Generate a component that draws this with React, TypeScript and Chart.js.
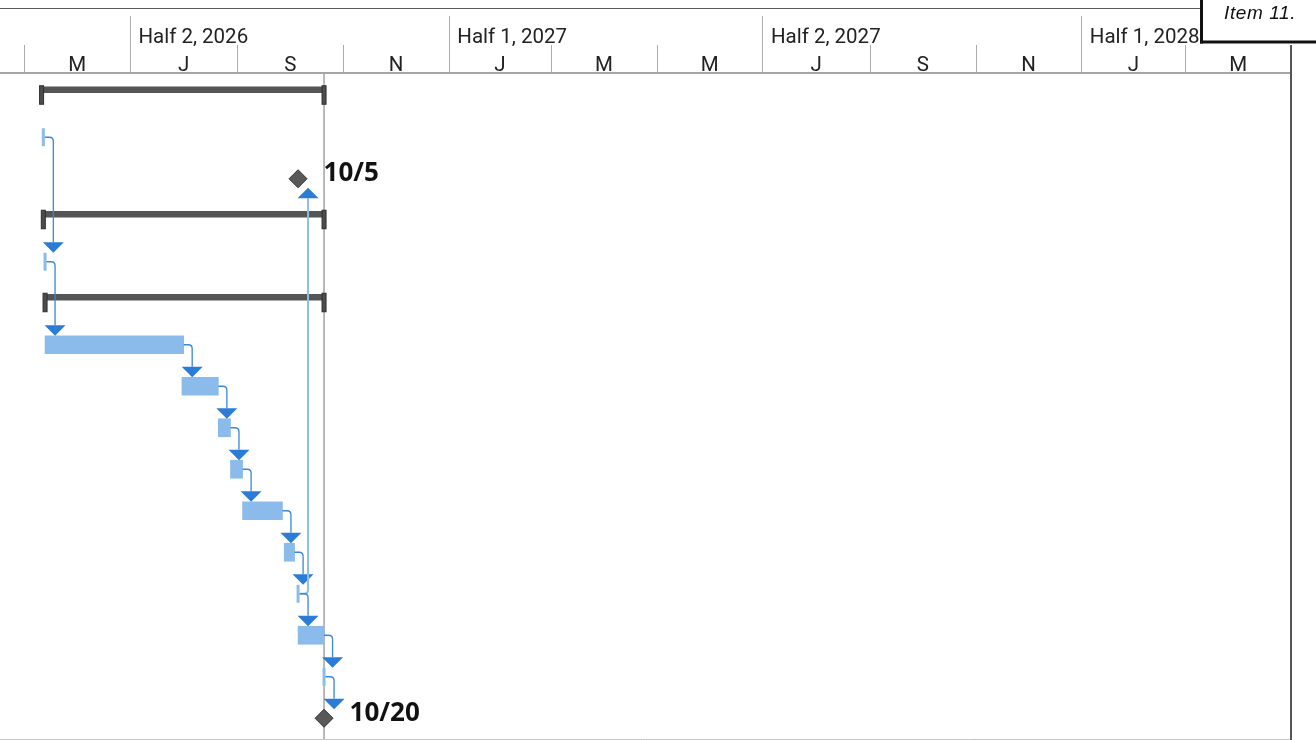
import React, { useEffect, useRef } from "react";
import { Chart, registerables } from "chart.js";

Chart.register(...registerables);

// ---------- time frame ----------
const ORIGIN = "2026-05-01"; // day 0 of the numeric time axis
const VIEW_START = "2026-04-17";
const VIEW_END = "2028-05-01";
const STATUS_DATE = "2026-10-20"; // grey vertical line (end of day)
const ROW_COUNT = 16;

// ---------- rows ----------
const rowNames = [
  "Item 1.", "Item 2.", "Item 3.", "Item 4.", "Item 5.", "Item 6.", "Item 7.", "Item 8.",
  "Item 9.", "Item 10.", "Item 11.", "Item 12.", "Item 13.", "Item 14.", "Item 15.", "Item 16.",
];

// summary tasks (start / finish, finish inclusive)
const summaryRows = [0, 3, 5];
const summaryStart = ["2026-05-11", "2026-05-12", "2026-05-13"];
const summaryFinish = ["2026-10-20", "2026-10-20", "2026-10-20"];

// normal tasks (start / finish, finish inclusive)
const taskRows = [6, 7, 8, 9, 10, 11, 13];
const taskStart = ["2026-05-13", "2026-07-31", "2026-08-21", "2026-08-28", "2026-09-04", "2026-09-28", "2026-10-06"];
const taskFinish = ["2026-07-31", "2026-08-20", "2026-08-27", "2026-09-03", "2026-09-26", "2026-10-03", "2026-10-20"];

// zero-length tasks drawn as a thin start mark
const pointTaskRows = [1, 4, 12, 14];
const pointTaskDates = ["2026-05-12", "2026-05-13", "2026-10-06", "2026-10-21"];

// milestones (placed at end of day)
const milestoneRows = [2, 15];
const milestoneDates = ["2026-10-05", "2026-10-20"];
const milestoneLabels = ["10/5", "10/20"];

// dependencies: predecessor row -> successor row
const linkFrom = [1, 4, 6, 7, 8, 9, 10, 11, 12, 12, 13, 14];
const linkTo = [4, 6, 7, 8, 9, 10, 11, 12, 2, 13, 14, 15];

// ---------- timescale ----------
const halfStarts = ["2026-01-01", "2026-07-01", "2027-01-01", "2027-07-01", "2028-01-01"];
const halfLabels = ["Half 1, 2026", "Half 2, 2026", "Half 1, 2027", "Half 2, 2027", "Half 1, 2028"];
const periodStarts = [
  "2026-03-01", "2026-05-01", "2026-07-01", "2026-09-01", "2026-11-01", "2027-01-01", "2027-03-01",
  "2027-05-01", "2027-07-01", "2027-09-01", "2027-11-01", "2028-01-01", "2028-03-01", "2028-05-01",
];
const periodLabels = ["M", "M", "J", "S", "N", "J", "M", "M", "J", "S", "N", "J", "M"];

const CALLOUT_TEXT = "Item 11.";

// ---------- helpers ----------
const MS_DAY = 86400000;
const dayOf = (iso: string) =>
  (Date.parse(iso + "T00:00:00Z") - Date.parse(ORIGIN + "T00:00:00Z")) / MS_DAY;
const endOf = (iso: string) => dayOf(iso) + 1;

const BAR_BLUE = "#8BBBEB";
const LINK_BLUE = "#3A87D9";
const ARROW_BLUE = "#2B7CD6";
const SUMMARY_GREY = "#555555";
const SUMMARY_SHIFT = 0.145; // summary bar sits in the upper part of its row
const HEADER_FONT = '20.5px Roboto, "Noto Sans", sans-serif';

type RowInfo = { kind: string; right: number };

function rowInfoMap(): Record<number, RowInfo> {
  const m: Record<number, RowInfo> = {};
  summaryRows.forEach((r, i) => (m[r] = { kind: "summary", right: endOf(summaryFinish[i]) }));
  taskRows.forEach((r, i) => (m[r] = { kind: "task", right: endOf(taskFinish[i]) }));
  pointTaskRows.forEach((r, i) => (m[r] = { kind: "point", right: dayOf(pointTaskDates[i]) }));
  milestoneRows.forEach((r, i) => (m[r] = { kind: "milestone", right: endOf(milestoneDates[i]) }));
  return m;
}

function line(ctx: CanvasRenderingContext2D, x1: number, y1: number, x2: number, y2: number) {
  ctx.beginPath();
  ctx.moveTo(x1, y1);
  ctx.lineTo(x2, y2);
  ctx.stroke();
}

const ganttPlugin = {
  id: "gantt",
  beforeDraw(chart: any) {
    const { ctx, width, height } = chart;
    ctx.save();
    ctx.fillStyle = "#ffffff";
    ctx.fillRect(0, 0, width, height);
    ctx.restore();
  },
  beforeDatasetsDraw(chart: any) {
    const { ctx, chartArea } = chart;
    const x = chart.scales.x;
    const right = chartArea.right;
    const px = (iso: string) => x.getPixelForValue(dayOf(iso));

    ctx.save();
    // header area
    ctx.save();
    ctx.beginPath();
    ctx.rect(0, 0, right, 74);
    ctx.clip();
    ctx.strokeStyle = "#ababab";
    ctx.lineWidth = 1;
    periodStarts.forEach((p) => {
      const xx = Math.round(px(p)) + 0.5;
      line(ctx, xx, 45, xx, 72);
    });
    halfStarts.forEach((h) => {
      const xx = Math.round(px(h)) + 0.5;
      line(ctx, xx, 16, xx, 72);
    });
    ctx.fillStyle = "#222222";
    ctx.font = HEADER_FONT;
    ctx.textBaseline = "alphabetic";
    ctx.textAlign = "left";
    halfLabels.forEach((lab, i) => ctx.fillText(lab, px(halfStarts[i]) + 8.5, 43));
    ctx.textAlign = "center";
    periodLabels.forEach((lab, i) => {
      const a = px(periodStarts[i]);
      const b = px(periodStarts[i + 1]);
      ctx.fillText(lab, (a + b) / 2, 71);
    });
    ctx.restore();

    // frame lines
    ctx.strokeStyle = "#5a5a5a";
    ctx.lineWidth = 1;
    line(ctx, 0, 8.5, chart.width, 8.5);
    ctx.strokeStyle = "#a6a6a6";
    ctx.lineWidth = 2;
    line(ctx, 0, 73, right, 73);
    ctx.strokeStyle = "#c4c4c4";
    ctx.lineWidth = 1;
    line(ctx, 0, 739.5, right, 739.5);

    // status line
    const sx = x.getPixelForValue(endOf(STATUS_DATE));
    ctx.strokeStyle = "#a3a3a3";
    ctx.lineWidth = 1.5;
    line(ctx, sx, 74, sx, 739);
    ctx.restore();
  },
  afterDatasetsDraw(chart: any) {
    const { ctx, chartArea } = chart;
    const x = chart.scales.x;
    const y = chart.scales.y;
    const right = chartArea.right;

    ctx.save();
    // summary end caps
    summaryRows.forEach((r, i) => {
      const yc = y.getPixelForValue(r);
      [dayOf(summaryStart[i]), endOf(summaryFinish[i])].forEach((d) => {
        const xc = x.getPixelForValue(d);
        ctx.fillStyle = "#4d4d4d";
        ctx.fillRect(xc - 2, yc - 10, 4, 18.5);
        ctx.strokeStyle = "#2e2e2e";
        ctx.lineWidth = 1;
        ctx.strokeRect(xc - 2, yc - 10, 4, 18.5);
      });
    });

    // dependency links
    const info = rowInfoMap();
    linkFrom.forEach((f, i) => {
      const t = linkTo[i];
      const src = info[f];
      let sRight = x.getPixelForValue(src.right);
      if (src.kind === "point") sRight += 1.5;
      if (src.kind === "milestone") sRight += 9;
      const vx = sRight + 8.5;
      const sy = y.getPixelForValue(f);
      const down = t > f;
      const tc = y.getPixelForValue(t);
      const tipY = down ? tc - 9 : tc + 9;
      const baseY = down ? tipY - 10.5 : tipY + 10.5;
      const rr = 4;
      const light = !down;
      ctx.beginPath();
      ctx.moveTo(sRight, sy);
      ctx.lineTo(vx - rr, sy);
      ctx.quadraticCurveTo(vx, sy, vx, sy + (down ? rr : -rr));
      ctx.lineTo(vx, baseY);
      ctx.strokeStyle = light ? "#8DBCEB" : LINK_BLUE;
      ctx.lineWidth = light ? 2 : 1.3;
      ctx.stroke();
      ctx.beginPath();
      ctx.moveTo(vx - 10.5, baseY);
      ctx.lineTo(vx + 10.5, baseY);
      ctx.lineTo(vx, tipY);
      ctx.closePath();
      ctx.fillStyle = ARROW_BLUE;
      ctx.fill();
    });

    // right frame
    ctx.strokeStyle = "#555555";
    ctx.lineWidth = 2;
    line(ctx, right, 45, right, 740);

    // milestone labels
    ctx.fillStyle = "#111111";
    ctx.font = 'bold 26px "Open Sans", "Noto Sans", sans-serif';
    ctx.textAlign = "left";
    ctx.textBaseline = "alphabetic";
    milestoneRows.forEach((r, i) => {
      const mx = x.getPixelForValue(endOf(milestoneDates[i]));
      const my = y.getPixelForValue(r);
      ctx.fillText(milestoneLabels[i], mx + 25.5, my + 2.5);
    });
    ctx.restore();
  },
  afterDraw(chart: any) {
    const { ctx, width } = chart;
    ctx.save();
    ctx.fillStyle = "#ffffff";
    ctx.fillRect(1200, 0, width - 1200, 42);
    ctx.strokeStyle = "#111111";
    ctx.lineWidth = 3;
    line(ctx, 1201.5, 0, 1201.5, 43.5);
    line(ctx, 1200, 42, width, 42);
    ctx.fillStyle = "#111111";
    ctx.font = 'italic 19px "Liberation Sans", Arial, sans-serif';
    (ctx as any).letterSpacing = "0.6px";
    ctx.textAlign = "left";
    ctx.textBaseline = "alphabetic";
    ctx.fillText(CALLOUT_TEXT, 1224, 19);
    ctx.restore();
  },
};

export default function App() {
  const ref = useRef<HTMLCanvasElement>(null);

  useEffect(() => {
    const canvas = ref.current;
    if (!canvas) return;

    const data: any = {
      datasets: [
        {
          type: "scatter",
          label: "Milestones",
          data: milestoneRows.map((r, i) => ({ x: endOf(milestoneDates[i]), y: r, name: rowNames[r] })),
          pointStyle: "rectRot",
          pointRadius: 9,
          pointHoverRadius: 9,
          pointBackgroundColor: "#595959",
          pointBorderColor: "#333333",
          pointBorderWidth: 1,
          showLine: false,
          clip: false,
        },
        {
          type: "scatter",
          label: "Zero-length tasks",
          data: pointTaskRows.map((r, i) => ({ x: dayOf(pointTaskDates[i]), y: r, name: rowNames[r] })),
          pointStyle: "line",
          pointRotation: 90,
          pointRadius: 9,
          pointHoverRadius: 9,
          pointBorderColor: BAR_BLUE,
          pointBackgroundColor: BAR_BLUE,
          pointBorderWidth: 3,
          showLine: false,
          clip: false,
        },
        {
          type: "bar",
          label: "Tasks",
          indexAxis: "y",
          grouped: false,
          data: taskRows.map((r, i) => ({ y: r, x: [dayOf(taskStart[i]), endOf(taskFinish[i])], name: rowNames[r] })),
          backgroundColor: BAR_BLUE,
          borderWidth: 0,
          barThickness: 18,
        },
        {
          type: "bar",
          label: "Summary",
          indexAxis: "y",
          grouped: false,
          data: summaryRows.map((r, i) => ({
            y: r - SUMMARY_SHIFT,
            x: [dayOf(summaryStart[i]), endOf(summaryFinish[i])],
            name: rowNames[r],
          })),
          backgroundColor: SUMMARY_GREY,
          borderWidth: 0,
          barThickness: 6,
        },
      ],
    };

    const chart = new Chart(canvas, {
      type: "bar",
      data,
      options: {
        responsive: false,
        animation: false,
        devicePixelRatio: 1,
        events: [],
        layout: { autoPadding: false, padding: { left: 0, right: 25, top: 75, bottom: 1 } },
        plugins: { legend: { display: false }, tooltip: { enabled: false } },
        scales: {
          x: {
            type: "linear",
            display: false,
            offset: false,
            min: dayOf(VIEW_START),
            max: dayOf(VIEW_END),
            grid: { display: false },
          },
          y: {
            type: "linear",
            display: false,
            offset: false,
            reverse: true,
            min: -0.5,
            max: ROW_COUNT - 0.5,
            grid: { display: false },
          },
        },
      } as any,
      plugins: [ganttPlugin as any],
    });

    return () => chart.destroy();
  }, []);

  return (
    <div style={{ position: "absolute", left: 0, top: 0, width: 1316, height: 740, background: "#fff" }}>
      <canvas ref={ref} width={1316} height={740} style={{ display: "block", width: 1316, height: 740 }} />
    </div>
  );
}
